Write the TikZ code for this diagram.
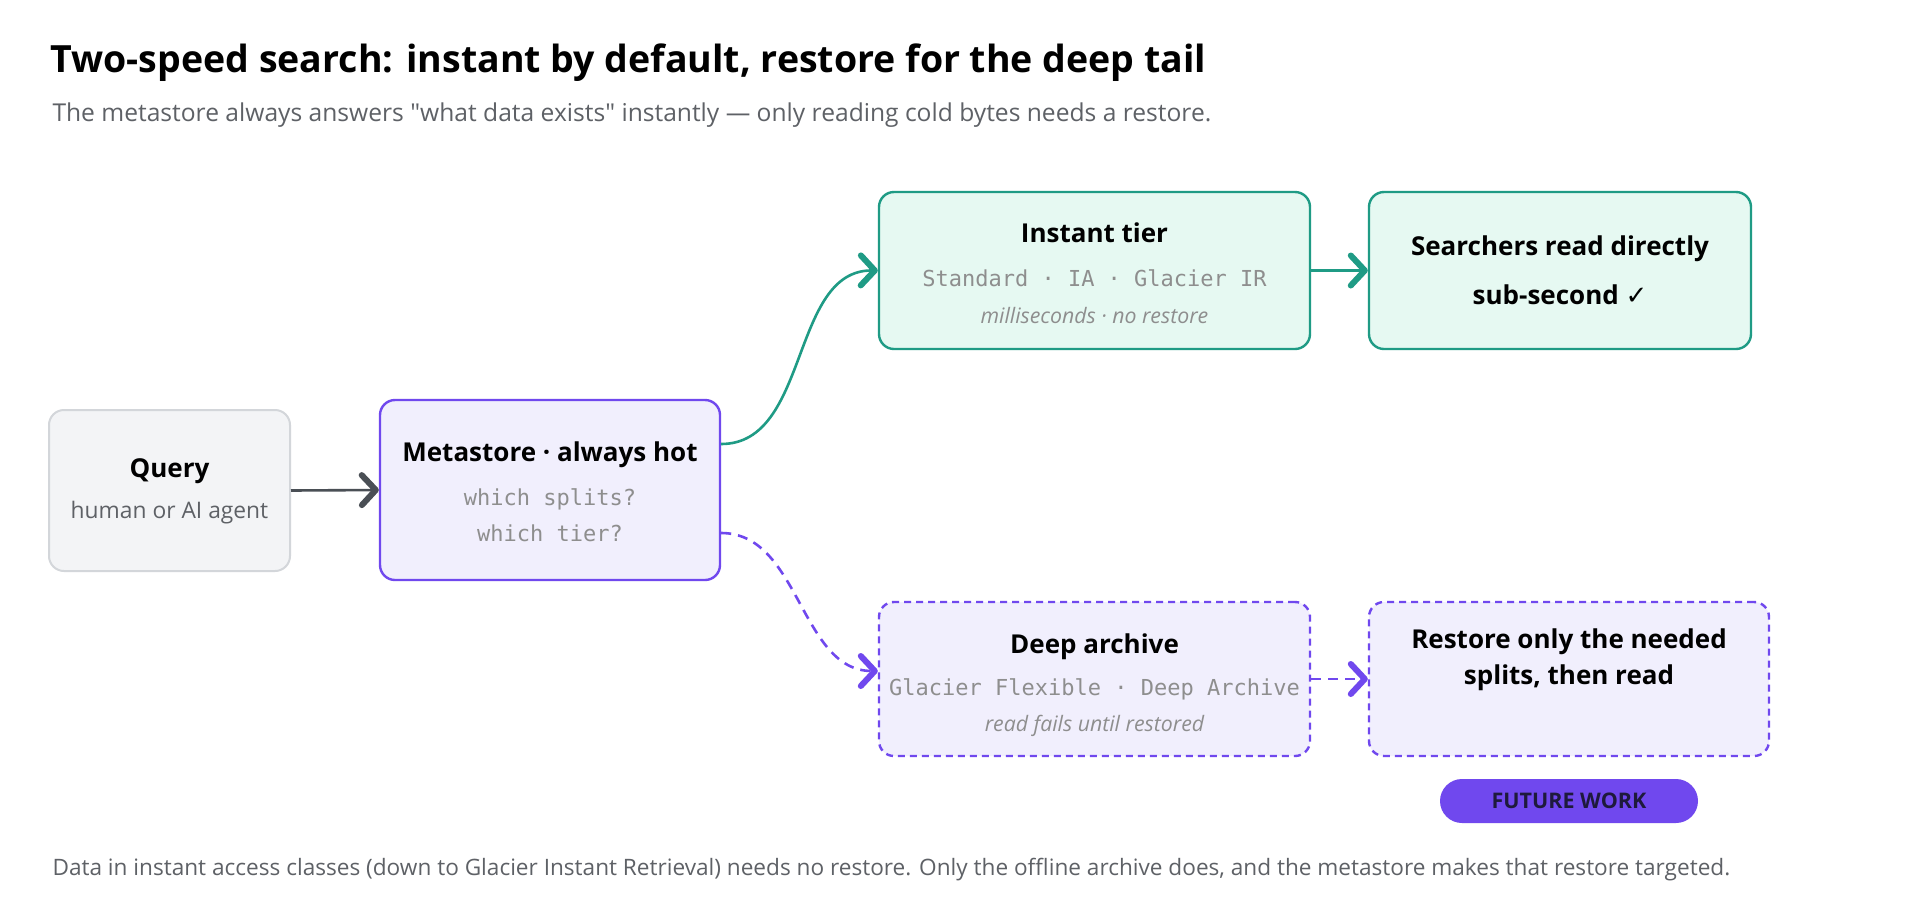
\documentclass[tikz,border=0pt]{standalone}
\usepackage{fontspec}
\setmainfont{Open Sans}
\setmonofont{DejaVu Sans Mono}
\newfontfamily\symfont{DejaVu Sans}
\newfontfamily\quotefont{Open Sans}
\usetikzlibrary{arrows.meta, calc}
\definecolor{tealline}{HTML}{1F9B85}
\definecolor{tealfill}{HTML}{E6F9F2}
\definecolor{purpline}{HTML}{7048EE}
\definecolor{purpfill}{HTML}{F1EFFD}
\definecolor{greyline}{HTML}{D3D6DA}
\definecolor{greyfill}{HTML}{F3F4F6}
\definecolor{arrowgrey}{HTML}{4A4F55}
\definecolor{subtext}{HTML}{5E6166}
\definecolor{monotext}{HTML}{8E8E8E}
\definecolor{pilltext}{HTML}{1E1A3C}

\begin{document}
\begin{tikzpicture}[x=1pt, y=-1pt,
    box/.style={rectangle, rounded corners=15pt, line width=2.4pt},
    hotbox/.style={box, draw=tealline, fill=tealfill},
    metabox/.style={box, draw=purpline, fill=purpfill},
    coldbox/.style={box, draw=purpline, fill=purpfill, dash pattern=on 7pt off 5pt},
    querybox/.style={box, draw=greyline, fill=greyfill, line width=2pt},
    head/.style={anchor=base, font=\fontsize{26}{30}\selectfont\bfseries},
    body/.style={anchor=base, text=subtext, font=\fontsize{22.8}{27}\selectfont},
    mono/.style={anchor=base, text=monotext, font=\fontsize{22}{26}\selectfont\ttfamily},
    note/.style={anchor=base, text=monotext, font=\fontsize{21.3}{25}\selectfont\itshape},
    link/.style={line width=2.6pt, -{Straight Barb[length=14pt, width=30pt, line width=6pt 0, round]}}
]
    \fill[white] (0,0) rectangle (1920,922);
    \useasboundingbox (0,0) rectangle (1920,922);

    % Title and subtitle
    \node[anchor=base west, font=\fontsize{37.5}{44}\selectfont\bfseries] (title) at (47,72) {Two-speed search: instant by default, restore for the deep tail};
    \node[anchor=base west, text=subtext, font=\fontsize{24.6}{29}\selectfont] (subtitle) at (49,121) {The metastore always answers {\quotefont"}what data exists{\quotefont"} instantly --- only reading cold bytes needs a restore.};

    % Boxes
    \node[querybox, minimum width=241pt, minimum height=161pt] (query) at (169.5,490.5) {};
    \node[metabox, minimum width=340pt, minimum height=180pt] (meta) at (550,490) {};
    \node[hotbox, minimum width=431pt, minimum height=157pt] (instant) at (1094.5,270.5) {};
    \node[hotbox, minimum width=382pt, minimum height=157pt] (search) at (1560,270.5) {};
    \node[coldbox, minimum width=431pt, minimum height=154pt] (deep) at (1094.5,679) {};
    \node[coldbox, minimum width=400pt, minimum height=154pt] (restore) at (1569,679) {};

    % Box texts
    \node[head] (queryT) at (169.5,477) {Query};
    \node[body] (queryB) at (169.5,518) {human or AI agent};
    \node[head] (metaT) at (550,461) {Metastore · always hot};
    \node[mono] (metaA) at (550,505) {which splits?};
    \node[mono] (metaB) at (550,541) {which tier?};
    \node[head] (instantT) at (1094.5,242) {Instant tier};
    \node[mono] (instantA) at (1094.5,286) {Standard · IA · Glacier IR};
    \node[note] (instantB) at (1094.5,323) {milliseconds · no restore};
    \node[head] (searchA) at (1560,255) {Searchers read directly};
    \node[head] (searchB) at (1560,304) {sub-second {\symfont ✓}};
    \node[head] (deepT) at (1094.5,653) {Deep archive};
    \node[mono] (deepA) at (1094.5,695) {Glacier Flexible · Deep Archive};
    \node[note] (deepB) at (1094.5,731) {read fails until restored};
    \node[head] (restoreA) at (1569,648) {Restore only the needed};
    \node[head] (restoreB) at (1569,684) {splits, then read};

    % Future work pill
    \node[rectangle, rounded corners=22pt, fill=purpline, minimum width=258pt, minimum height=44pt, text=pilltext, font=\fontsize{21.5}{25}\selectfont\bfseries] (pill) at (1569,801) {FUTURE WORK};

    % Connectors
    \draw[link, arrowgrey] (query.east) -- (meta.west);
    \draw[link, tealline] ($(meta.east)+(0,-46)$) .. controls (810,444) and (790,270) .. (instant.west);
    \draw[link, tealline] (instant.east) -- (search.west);
    \draw[link, purpline, dash pattern=on 10pt off 7pt] ($(meta.east)+(0,43)$) .. controls (800,533) and (800,671) .. ($(deep.west)+(0,-8)$);
    \draw[link, purpline, dash pattern=on 10pt off 7pt] (deep.east) -- (restore.west);

    % Footer
    \node[anchor=base west, text=subtext, font=\fontsize{22.6}{27}\selectfont] (footer) at (49,875) {Data in instant access classes (down to Glacier Instant Retrieval) needs no restore. Only the offline archive does, and the metastore makes that restore targeted.};
\end{tikzpicture}
\end{document}
